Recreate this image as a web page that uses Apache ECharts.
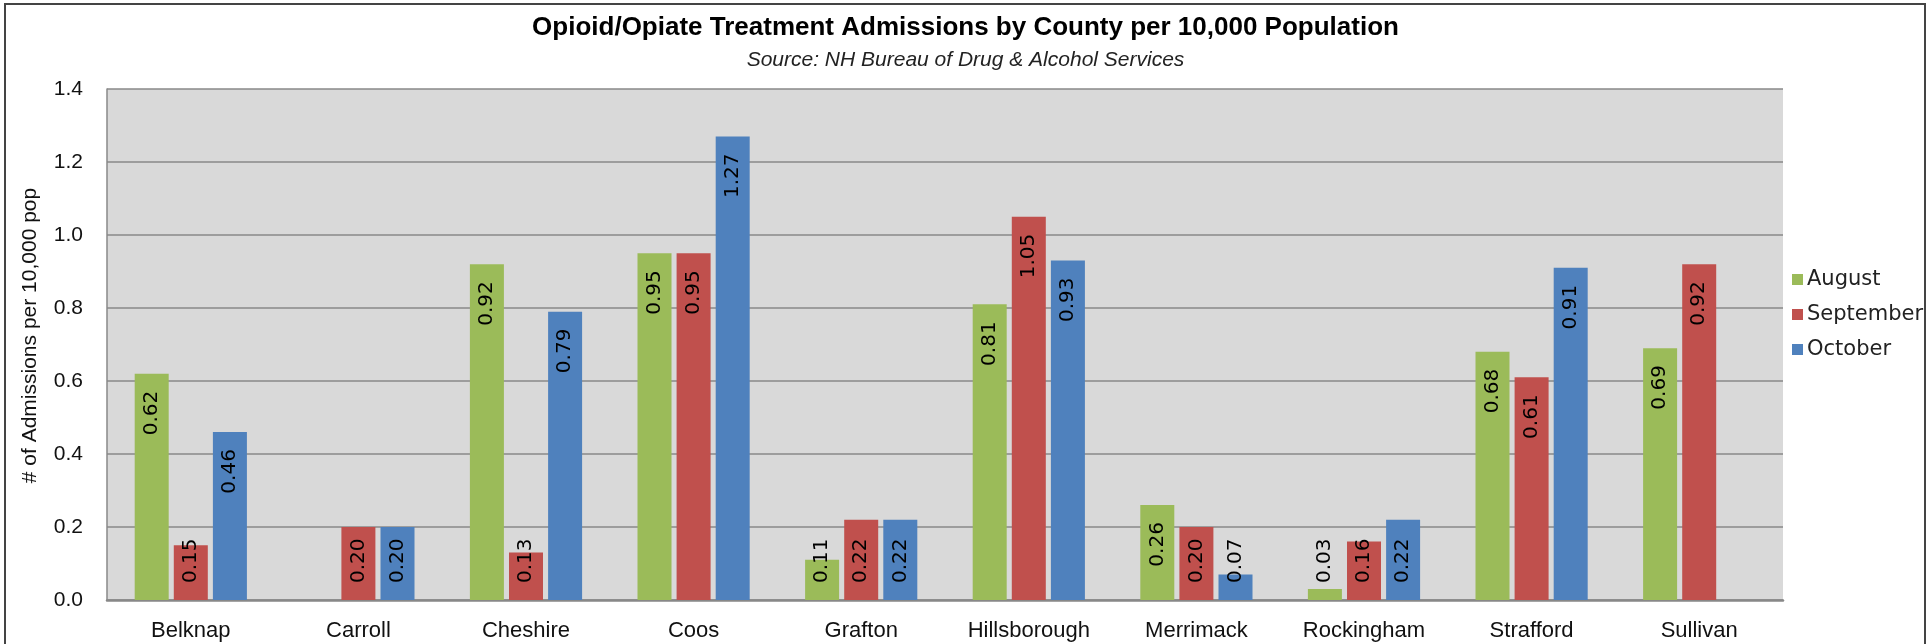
<!DOCTYPE html>
<html>
<head>
<meta charset="utf-8">
<title>Opioid/Opiate Treatment Admissions</title>
<script src="https://cdn.jsdelivr.net/npm/echarts@6/dist/echarts.min.js"></script>
<style>
  html, body { margin: 0; padding: 0; background: #fff; }
  #chart { width: 1931px; height: 644px; }
</style>
</head>
<body>
<div id="chart"></div>
<script>
  // data
  var counties = ['Belknap', 'Carroll', 'Cheshire', 'Coos', 'Grafton', 'Hillsborough', 'Merrimack', 'Rockingham', 'Strafford', 'Sullivan'];
  var august = [0.62, null, 0.92, 0.95, 0.11, 0.81, 0.26, 0.03, 0.68, 0.69];
  var september = [0.15, 0.20, 0.13, 0.95, 0.22, 1.05, 0.20, 0.16, 0.61, 0.92];
  var october = [0.46, 0.20, 0.79, 1.27, 0.22, 0.93, 0.07, 0.22, 0.91, null];
  var yTicks = [0, 0.2, 0.4, 0.6, 0.8, 1.0, 1.2, 1.4];

  var LABEL_FONT = 'DejaVu Sans';
  var TEXT_FONT = '"Liberation Sans", Arial, sans-serif';
  // short bars get their label pinned near the axis (like Excel does)
  var SHORT_BAR = 0.23;

  function barData(values) {
    return values.map(function (v) {
      if (v === null) return null;
      var short = v < SHORT_BAR;
      return {
        value: v,
        label: short
          ? { position: 'insideBottom', align: 'left', distance: 17 }
          : { position: 'insideTop', align: 'right', distance: 17 }
      };
    });
  }

  function makeSeries(name, values, color) {
    return {
      name: name,
      type: 'bar',
      data: barData(values),
      barWidth: 34,
      barGap: '15%',
      itemStyle: { color: color },
      label: {
        show: true,
        rotate: 90,
        verticalAlign: 'middle',
        color: '#000',
        fontFamily: LABEL_FONT,
        fontSize: 20,
        formatter: function (p) { return p.value.toFixed(2); }
      }
    };
  }

  var myChart = echarts.init(document.getElementById('chart'));
  var option = {
    animation: false,
    title: {
      text: 'Opioid/Opiate Treatment Admissions by County per 10,000 Population',
      subtext: 'Source: NH Bureau of Drug & Alcohol Services',
      left: 'center',
      top: 10,
      itemGap: 9,
      textStyle: { fontFamily: TEXT_FONT, fontSize: 26, fontWeight: 'bold', color: '#000' },
      subtextStyle: { fontFamily: TEXT_FONT, fontSize: 21, fontStyle: 'italic', color: '#222' }
    },
    legend: {
      orient: 'vertical',
      left: 1792,
      top: 269,
      padding: 0,
      itemWidth: 11,
      itemHeight: 11,
      itemGap: 14,
      icon: 'rect',
      textStyle: { fontFamily: LABEL_FONT, fontSize: 21, color: '#222', padding: [0, 0, 0, -1] }
    },
    grid: {
      left: 107,
      right: 148,
      top: 89,
      bottom: 44,
      show: true,
      backgroundColor: '#D9D9D9',
      borderWidth: 0
    },
    xAxis: {
      type: 'category',
      data: counties,
      axisTick: { show: false },
      axisLine: { lineStyle: { color: '#888', width: 2.5 } },
      axisLabel: { fontFamily: TEXT_FONT, fontSize: 22, color: '#111', margin: 20 }
    },
    yAxis: {
      type: 'value',
      min: yTicks[0],
      max: yTicks[yTicks.length - 1],
      interval: 0.2,
      name: '# of Admissions per 10,000 pop',
      nameLocation: 'middle',
      nameGap: 66,
      nameTextStyle: { fontFamily: TEXT_FONT, fontSize: 21, color: '#111', padding: [0, 0, 0, 18] },
      axisLine: { show: true, lineStyle: { color: '#888', width: 1.5 } },
      axisTick: { show: false },
      splitLine: { lineStyle: { color: '#888', width: 1.5 } },
      axisLabel: {
        fontFamily: TEXT_FONT, fontSize: 21, color: '#111', margin: 24,
        formatter: function (v) { return v.toFixed(1); }
      }
    },
    graphic: [{
      type: 'rect',
      shape: { x: 5, y: 4, width: 1920, height: 700 },
      style: { fill: 'none', stroke: '#444', lineWidth: 2 },
      silent: true
    }],
    series: [
      makeSeries('August', august, '#9BBB59'),
      makeSeries('September', september, '#C0504D'),
      makeSeries('October', october, '#4F81BD')
    ]
  };
  myChart.setOption(option);
</script>
</body>
</html>
